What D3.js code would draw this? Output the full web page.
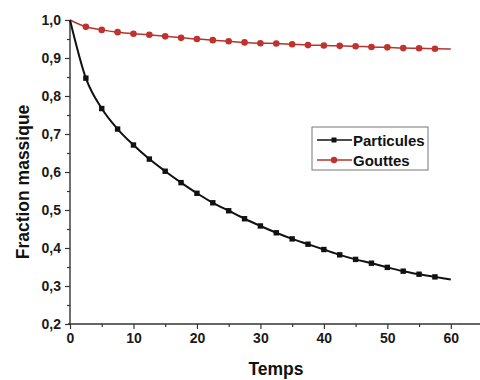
<!DOCTYPE html>
<html><head><meta charset="utf-8">
<script src="https://cdn.jsdelivr.net/npm/d3@7"></script>
<style>html,body{margin:0;padding:0;background:#fff;}svg{display:block;}</style>
</head><body>
<svg id="c" width="480" height="380"></svg>
<script>
const times = [0,2.5,5,7.5,10,12.5,15,17.5,20,22.5,25,27.5,30,32.5,35,37.5,40,42.5,45,47.5,50,52.5,55,57.5,60];
const particules = [1.0,0.847,0.767,0.713,0.671,0.634,0.602,0.572,0.544,0.519,0.498,0.477,0.458,0.440,0.424,0.410,0.396,0.382,0.370,0.360,0.349,0.339,0.331,0.324,0.317];
const gouttes = [1.0,0.982,0.974,0.968,0.964,0.961,0.957,0.953,0.950,0.947,0.944,0.941,0.939,0.938,0.936,0.934,0.933,0.932,0.931,0.929,0.928,0.926,0.9255,0.9245,0.924];
const xTicks = [0,10,20,30,40,50,60];
const xMinor = [5,15,25,35,45,55];
const yTicks = [0.2,0.3,0.4,0.5,0.6,0.7,0.8,0.9,1.0];
const yMinor = [0.25,0.35,0.45,0.55,0.65,0.75,0.85,0.95];
const seriesNames = ["Particules","Gouttes"];

const svg = d3.select("#c");
const font = "'Liberation Sans', Arial, sans-serif";
const x = d3.scaleLinear().domain([0,64.6]).range([70,480]);
const y = d3.scaleLinear().domain([0.2,1.0]).range([324,20]);
const fmt = d => d3.format(".1f")(d).replace(".", ",");

// axes
const gx = svg.append("g").attr("transform","translate(0,324)")
  .call(d3.axisBottom(x).tickValues(xTicks).tickSize(5).tickPadding(4).tickFormat(d3.format("d")));
svg.append("g").attr("transform","translate(0,324)")
  .call(d3.axisBottom(x).tickValues(xMinor).tickSize(3).tickFormat(""))
  .select(".domain").remove();
const gy = svg.append("g").attr("transform","translate(70,0)")
  .call(d3.axisLeft(y).tickValues(yTicks).tickSize(5).tickPadding(4).tickFormat(fmt));
svg.append("g").attr("transform","translate(70,0)")
  .call(d3.axisLeft(y).tickValues(yMinor).tickSize(3).tickFormat(""))
  .select(".domain").remove();
gx.select(".domain").attr("d","M68,0H480");
gy.select(".domain").attr("d","M0,20V325");
svg.selectAll(".domain").attr("stroke","#333").attr("stroke-width",1.4);
svg.selectAll(".tick line").attr("stroke","#333").attr("stroke-width",1.2);
svg.selectAll(".tick text").attr("font-family",font).attr("font-weight","bold")
  .attr("font-size",14).attr("fill","#1a1a1a");

// titles
svg.append("text").attr("x",276).attr("y",375).attr("text-anchor","middle")
  .attr("font-family",font).attr("font-weight","bold").attr("font-size",17.5).attr("fill","#111").text("Temps");
svg.append("text").attr("transform","translate(29,182) rotate(-90)").attr("text-anchor","middle")
  .attr("font-family",font).attr("font-weight","bold").attr("font-size",17.5).attr("fill","#111").text("Fraction massique");

const line = d3.line().x(d=>x(d[0])).y(d=>y(d[1])).curve(d3.curveMonotoneX);
const pData = times.map((t,i)=>[t,particules[i]]);
const gData = times.map((t,i)=>[t,gouttes[i]]);
const markIdx = d => d[0]>0 && d[0]<60;

svg.append("path").attr("d",line(gData)).attr("fill","none").attr("stroke","#b8322e").attr("stroke-width",1.5);
svg.append("path").attr("d",line(pData)).attr("fill","none").attr("stroke","#111").attr("stroke-width",2);

svg.selectAll("circle.g").data(gData.filter(markIdx)).enter().append("circle")
  .attr("cx",d=>x(d[0])).attr("cy",d=>y(d[1])).attr("r",3.3).attr("fill","#c0322e");
svg.selectAll("rect.p").data(pData.filter(markIdx)).enter().append("rect")
  .attr("x",d=>x(d[0])-2.7).attr("y",d=>y(d[1])-2.7).attr("width",5.4).attr("height",5.4).attr("fill","#111");

// legend
const lg = svg.append("g");
lg.append("rect").attr("x",312).attr("y",127).attr("width",116).attr("height",43)
  .attr("fill","#fff").attr("stroke","#777").attr("stroke-width",1);
seriesNames.forEach((name,i)=>{
  const ly = 140 + i*20;
  const col = i===0 ? "#111" : "#b8322e";
  lg.append("line").attr("x1",317).attr("x2",352).attr("y1",ly).attr("y2",ly)
    .attr("stroke",col).attr("stroke-width",1.6);
  if(i===0) lg.append("rect").attr("x",331.5).attr("y",ly-2.5).attr("width",5).attr("height",5).attr("fill","#111");
  else lg.append("circle").attr("cx",334).attr("cy",ly).attr("r",3.2).attr("fill","#c0322e");
  lg.append("text").attr("x",353).attr("y",ly+5.5).attr("font-family",font).attr("font-weight","bold")
    .attr("font-size",15).attr("fill","#111").text(name);
});
</script>
</body></html>
